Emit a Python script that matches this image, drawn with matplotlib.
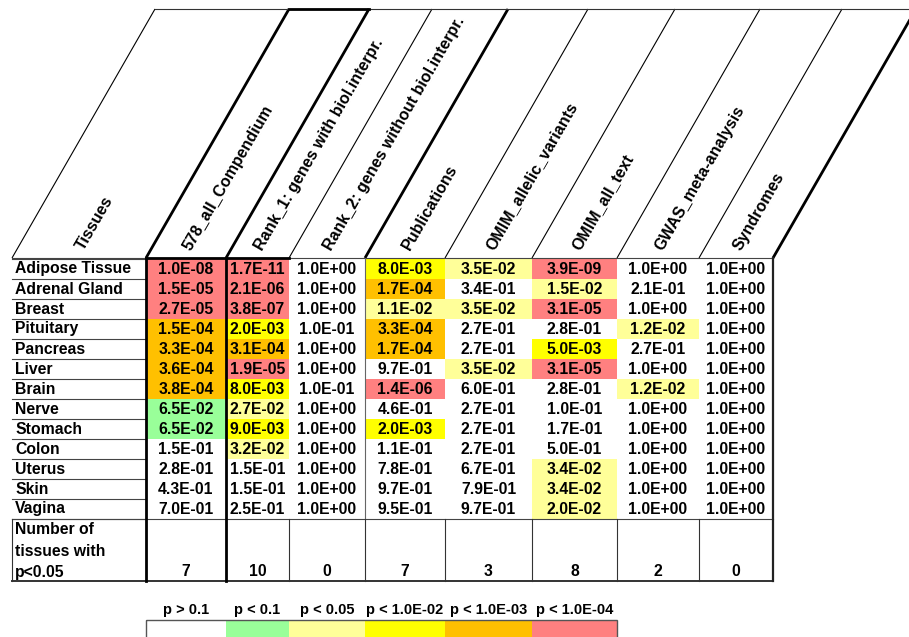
import matplotlib

matplotlib.use("Agg")
import matplotlib.pyplot as plt
import numpy as np
from matplotlib.colors import BoundaryNorm, ListedColormap
from matplotlib.patches import Rectangle

TISSUES = [
    "Adipose Tissue",
    "Adrenal Gland",
    "Breast",
    "Pituitary",
    "Pancreas",
    "Liver",
    "Brain",
    "Nerve",
    "Stomach",
    "Colon",
    "Uterus",
    "Skin",
    "Vagina",
]
COLUMNS = [
    "578_all_Compendium",
    "Rank_1: genes with biol.interpr.",
    "Rank_2: genes without biol.interpr.",
    "Publications",
    "OMIM_allelic_variants",
    "OMIM_all_text",
    "GWAS_meta-analysis",
    "Syndromes",
]

COMPENDIUM = [1.0e-8, 1.5e-5, 2.7e-5, 1.5e-4, 3.3e-4, 3.6e-4, 3.8e-4, 6.5e-2, 6.5e-2, 1.5e-1, 2.8e-1, 4.3e-1, 7.0e-1]
RANK_1 = [1.7e-11, 2.1e-6, 3.8e-7, 2.0e-3, 3.1e-4, 1.9e-5, 8.0e-3, 2.7e-2, 9.0e-3, 3.2e-2, 1.5e-1, 1.5e-1, 2.5e-1]
RANK_2 = [1.0, 1.0, 1.0, 1.0e-1, 1.0, 1.0, 1.0e-1, 1.0, 1.0, 1.0, 1.0, 1.0, 1.0]
PUBLICATIONS = [8.0e-3, 1.7e-4, 1.1e-2, 3.3e-4, 1.7e-4, 9.7e-1, 1.4e-6, 4.6e-1, 2.0e-3, 1.1e-1, 7.8e-1, 9.7e-1, 9.5e-1]
OMIM_ALLELIC = [3.5e-2, 3.4e-1, 3.5e-2, 2.7e-1, 2.7e-1, 3.5e-2, 6.0e-1, 2.7e-1, 2.7e-1, 2.7e-1, 6.7e-1, 7.9e-1, 9.7e-1]
OMIM_ALL_TEXT = [3.9e-9, 1.5e-2, 3.1e-5, 2.8e-1, 5.0e-3, 3.1e-5, 2.8e-1, 1.0e-1, 1.7e-1, 5.0e-1, 3.4e-2, 3.4e-2, 2.0e-2]
GWAS = [1.0, 2.1e-1, 1.0, 1.2e-2, 2.7e-1, 1.0, 1.2e-2, 1.0, 1.0, 1.0, 1.0, 1.0, 1.0]
SYNDROMES = [1.0] * 13

COUNTS = [7, 10, 0, 7, 3, 8, 2, 0]

LEGEND_LABELS = ["p > 0.1", "p < 0.1", "p < 0.05", "p < 1.0E-02", "p < 1.0E-03", "p < 1.0E-04"]
BIN_EDGES = [0, 1e-4, 1e-3, 1e-2, 0.05, 0.1, 1.01]
BIN_COLORS = ["#FF8080", "#FFC000", "#FFFF00", "#FFFF99", "#99FF99", "#FFFFFF"]

# layout, in pixels of the 909x637 picture
COL_EDGES = [12, 146, 226, 289, 365, 445, 532, 617, 699, 773]
ROW_TOP = 259
ROW_H = 20
SUMMARY_H = 62
HEADER_TOP = 9
HEADER_BOTTOM = 258
SLANT = 143
THIN = 0.8
THICK = 2.0
CELL_FS = 11.3
HEAD_FS = 11.5


def draw_header(ax):
    thick_edges = (1, 2, 4, 9)
    for i, x in enumerate(COL_EDGES):
        lw = THICK if i in thick_edges else THIN
        ax.plot([x, x + SLANT], [HEADER_BOTTOM, HEADER_TOP], color="black", lw=lw, solid_capstyle="butt")
    ax.plot([COL_EDGES[0] + SLANT, 909], [HEADER_TOP, HEADER_TOP], color="#333333", lw=THIN)
    ax.plot([COL_EDGES[1] + SLANT, COL_EDGES[2] + SLANT], [HEADER_TOP, HEADER_TOP], color="black", lw=THICK)

    labels = ["Tissues"] + COLUMNS
    for i, label in enumerate(labels):
        cx = (COL_EDGES[i] + COL_EDGES[i + 1]) / 2
        ax.text(cx + 1, HEADER_BOTTOM - 9, label, rotation=60, rotation_mode="anchor",
                ha="left", va="center", fontsize=HEAD_FS, fontweight="bold")


def draw_table(ax, values, cmap, norm):
    n_rows = len(TISSUES)
    row_edges = ROW_TOP + ROW_H * np.arange(n_rows + 1)
    ax.pcolormesh(COL_EDGES[1:], row_edges, values, cmap=cmap, norm=norm, edgecolors="none")

    for r, tissue in enumerate(TISSUES):
        cy = ROW_TOP + ROW_H * r + ROW_H / 2
        ax.text(COL_EDGES[0] + 3, cy, tissue, ha="left", va="center", fontsize=CELL_FS, fontweight="bold")
        for c in range(len(COLUMNS)):
            cx = (COL_EDGES[c + 1] + COL_EDGES[c + 2]) / 2
            ax.text(cx, cy, f"{values[r, c]:.1E}", ha="center", va="center", fontsize=CELL_FS, fontweight="bold")

    # lines of the tissue column
    for r in range(n_rows + 1):
        y = row_edges[r]
        ax.plot([COL_EDGES[0], COL_EDGES[1]], [y, y], color="#444444", lw=THIN)
    data_bottom = row_edges[-1]
    summary_bottom = data_bottom + SUMMARY_H
    ax.plot([COL_EDGES[0], COL_EDGES[-1]], [HEADER_BOTTOM, HEADER_BOTTOM], color="#444444", lw=THIN)
    ax.plot([COL_EDGES[1], COL_EDGES[3]], [HEADER_BOTTOM, HEADER_BOTTOM], color="black", lw=THICK)
    ax.plot([COL_EDGES[0], COL_EDGES[-1]], [data_bottom, data_bottom], color="#444444", lw=THIN)
    ax.plot([COL_EDGES[0], COL_EDGES[-1]], [summary_bottom, summary_bottom], color="#333333", lw=1.4)

    # vertical lines through the data rows
    ax.plot([COL_EDGES[4], COL_EDGES[4]], [HEADER_BOTTOM, data_bottom], color="#666666", lw=THIN)
    for i in (1, 2):
        ax.plot([COL_EDGES[i]] * 2, [HEADER_BOTTOM, summary_bottom], color="black", lw=THICK)
    ax.plot([COL_EDGES[-1]] * 2, [HEADER_BOTTOM, summary_bottom], color="#222222", lw=1.6)
    for i in (0, 3, 4, 5, 6, 7, 8):
        ax.plot([COL_EDGES[i]] * 2, [data_bottom, summary_bottom], color="#333333", lw=THIN)

    # summary row
    for k, line in enumerate(["Number of", "tissues with", "p<0.05"]):
        ax.text(COL_EDGES[0] + 3, data_bottom + 11 + 21 * k, line, ha="left", va="center",
                fontsize=CELL_FS, fontweight="bold")
    for c, count in enumerate(COUNTS):
        cx = (COL_EDGES[c + 1] + COL_EDGES[c + 2]) / 2
        ax.text(cx, data_bottom + 53, str(count), ha="center", va="center", fontsize=CELL_FS, fontweight="bold")


def draw_legend(ax, cmap):
    top = 620
    order = list(range(len(BIN_COLORS)))[::-1]
    for k, label in enumerate(LEGEND_LABELS):
        x0 = COL_EDGES[k + 1]
        x1 = COL_EDGES[k + 2]
        ax.add_patch(Rectangle((x0, top), x1 - x0, 30, facecolor=cmap(order[k]), edgecolor="none"))
        ax.text((x0 + x1) / 2, top - 10, label, ha="center", va="center", fontsize=10.5, fontweight="bold")
    ax.add_patch(Rectangle((COL_EDGES[1], top), COL_EDGES[7] - COL_EDGES[1], 30,
                           facecolor="none", edgecolor="#555555", lw=1.0))


def main():
    plt.rcParams["font.family"] = ["Liberation Sans", "DejaVu Sans"]
    values = np.array([COMPENDIUM, RANK_1, RANK_2, PUBLICATIONS, OMIM_ALLELIC,
                       OMIM_ALL_TEXT, GWAS, SYNDROMES]).T
    cmap = ListedColormap(BIN_COLORS)
    norm = BoundaryNorm(BIN_EDGES, cmap.N)

    fig = plt.figure(figsize=(9.09, 6.37), dpi=100)
    ax = fig.add_axes([0, 0, 1, 1])
    ax.set_xlim(0, 909)
    ax.set_ylim(637, 0)
    ax.axis("off")

    draw_header(ax)
    draw_table(ax, values, cmap, norm)
    draw_legend(ax, cmap)

    fig.savefig("out.png", dpi=100)
    plt.close(fig)


if __name__ == "__main__":
    main()
